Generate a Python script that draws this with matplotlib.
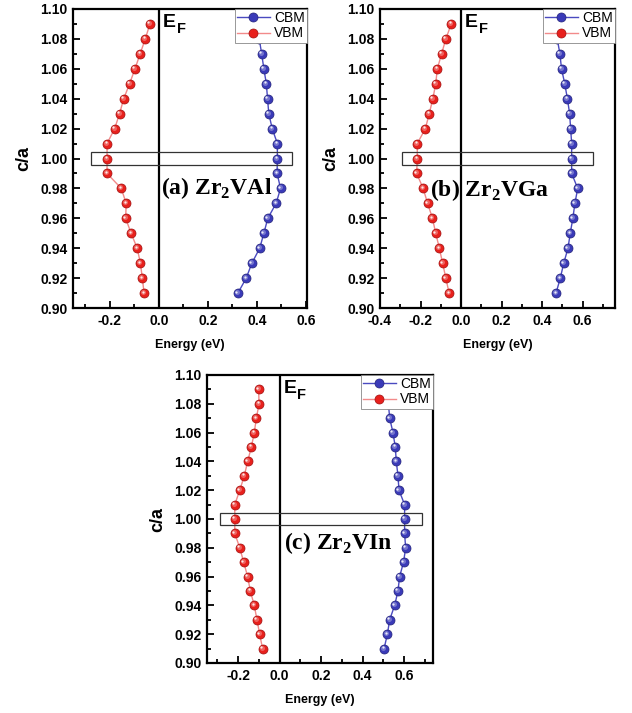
import numpy as np
import matplotlib
matplotlib.use("Agg")
import matplotlib.pyplot as plt
from matplotlib.ticker import MultipleLocator
from matplotlib import transforms
from matplotlib.patches import Rectangle

plt.rcParams['mathtext.fontset'] = 'custom'
plt.rcParams['mathtext.rm'] = 'Liberation Serif'
plt.rcParams['mathtext.bf'] = 'Liberation Serif:bold'

ca = [1.09, 1.08, 1.07, 1.06, 1.05, 1.04, 1.03, 1.02, 1.01, 1.00,
      0.99, 0.98, 0.97, 0.96, 0.95, 0.94, 0.93, 0.92, 0.91]

vbm_a = [-0.036, -0.055, -0.076, -0.097, -0.119, -0.143, -0.160, -0.180, -0.211, -0.211,
         -0.211, -0.153, -0.133, -0.135, -0.113, -0.088, -0.075, -0.067, -0.060]
cbm_a = [0.400, 0.410, 0.420, 0.429, 0.439, 0.444, 0.449, 0.463, 0.484, 0.484,
         0.483, 0.497, 0.479, 0.445, 0.429, 0.412, 0.380, 0.357, 0.323]

vbm_b = [-0.048, -0.075, -0.096, -0.117, -0.125, -0.139, -0.157, -0.176, -0.216, -0.216,
         -0.219, -0.187, -0.165, -0.141, -0.125, -0.107, -0.091, -0.075, -0.059]
cbm_b = [0.460, 0.475, 0.488, 0.496, 0.512, 0.525, 0.536, 0.541, 0.546, 0.546,
         0.546, 0.576, 0.562, 0.552, 0.539, 0.528, 0.507, 0.490, 0.469]

vbm_c = [-0.101, -0.099, -0.112, -0.122, -0.136, -0.154, -0.170, -0.192, -0.216, -0.216,
         -0.216, -0.192, -0.173, -0.154, -0.141, -0.122, -0.109, -0.096, -0.082]
cbm_c = [0.510, 0.525, 0.531, 0.547, 0.558, 0.563, 0.571, 0.576, 0.603, 0.603,
         0.603, 0.608, 0.598, 0.579, 0.571, 0.555, 0.531, 0.520, 0.504]

xticks_a = [-0.2, 0.0, 0.2, 0.4, 0.6]
xticks_b = [-0.4, -0.2, 0.0, 0.2, 0.4, 0.6]
xticks_c = [-0.2, 0.0, 0.2, 0.4, 0.6]
yticks = [0.90, 0.92, 0.94, 0.96, 0.98, 1.00, 1.02, 1.04, 1.06, 1.08, 1.10]

labels = [r"(a) Zr$_\mathbf{2}$VAl", r"(b) Zr$_\mathbf{2}$VGa", r"(c) Zr$_\mathbf{2}$VIn"]

fig = plt.figure(figsize=(6.32, 7.13), dpi=100)

W, H = 632, 713
def axes_px(l, r, t, b):
    return fig.add_axes([l / W, 1 - b / H, (r - l) / W, (b - t) / H])

ax_a = axes_px(73, 307, 9, 308)
ax_b = axes_px(380, 615, 9, 308)
ax_c = axes_px(207, 433, 375, 663)

SANS = "Liberation Sans"
SERIF = "Liberation Serif"
MS = 6.5

def sphere(ax, x, y, base, edge, line):
    ax.plot(x, y, '-', color=line, lw=1.0, zorder=3)
    ax.plot(x, y, 'o', ms=MS, mfc=base, mec=edge, mew=0.5, zorder=4)
    off = transforms.offset_copy(ax.transData, fig=fig, x=-0.7, y=0.7, units='points')
    ax.plot(x, y, 'o', ms=MS * 0.55, mfc='white', mec='none', alpha=0.3, transform=off, zorder=5)
    off2 = transforms.offset_copy(ax.transData, fig=fig, x=-1.1, y=1.1, units='points')
    ax.plot(x, y, 'o', ms=MS * 0.25, mfc='white', mec='none', alpha=0.85, transform=off2, zorder=6)

def panel(ax, vbm, cbm, xlim, xticks, label, label_xy, rect):
    ax.set_xlim(*xlim)
    ax.set_ylim(0.90, 1.10)
    ax.axvline(0.0, color='black', lw=1.6, zorder=2)
    h1 = ax.plot([], [], '-o', color='#4a4ac0', lw=1.0, ms=MS, mfc='#3a3ab8', mec='#23237a', mew=0.5)[0]
    h2 = ax.plot([], [], '-o', color='#f28a8a', lw=1.0, ms=MS, mfc='#e8201c', mec='#a01010', mew=0.5)[0]
    sphere(ax, cbm, ca, '#3a3ab8', '#23237a', '#4a4ac0')
    sphere(ax, vbm, ca, '#e8201c', '#a01010', '#f28a8a')
    ax.add_patch(Rectangle((rect[0], 0.9955), rect[1] - rect[0], 0.009,
                           fill=False, ec='#333333', lw=0.9, zorder=7))
    leg = ax.legend([h1, h2], ["CBM", "VBM"], loc='upper right', borderaxespad=0.0,
                    fancybox=False, framealpha=1.0, edgecolor='#888888',
                    prop={'family': SANS, 'size': 10}, handlelength=2.4,
                    handletextpad=0.3, borderpad=0.15, labelspacing=0.1)
    leg.get_frame().set_linewidth(0.6)
    leg.set_zorder(10)
    tE = ax.annotate("E", xy=(0.0, 1.0), xycoords=('data', 'axes fraction'),
                     xytext=(3, -3.5), textcoords='offset points', fontsize=14,
                     fontfamily=SANS, fontweight='bold', ha='left', va='top', zorder=8)
    ax.annotate("F", xy=(1.0, 0.0), xycoords=tE, xytext=(0.5, -4.0), textcoords='offset points',
                fontsize=10.5, fontfamily=SANS, fontweight='bold', ha='left', va='bottom', zorder=8)
    ax.text(label_xy[0], label_xy[1], label, fontsize=17, fontfamily=SERIF,
            fontweight='bold', ha='left', va='center', zorder=8)
    ax.set_xticks(xticks)
    ax.set_xticklabels([f"{v:.1f}" for v in xticks])
    ax.set_yticks(yticks)
    ax.set_yticklabels([f"{v:.2f}" for v in yticks])
    ax.xaxis.set_minor_locator(MultipleLocator(0.1))
    ax.yaxis.set_minor_locator(MultipleLocator(0.01))
    ax.tick_params(which='both', direction='in', top=False, right=False, width=1.3)
    ax.tick_params(which='major', length=5, labelsize=10, pad=4)
    ax.tick_params(which='minor', length=3)
    for lab in ax.get_xticklabels() + ax.get_yticklabels():
        lab.set_fontweight('bold')
        lab.set_fontfamily(SANS)
    for sp in ax.spines.values():
        sp.set_linewidth(1.6)
    ax.set_xlabel("Energy (eV)", fontsize=9, fontweight='bold', fontfamily=SANS, labelpad=8)
    ax.set_ylabel("c/a", fontsize=13, fontweight='bold', fontfamily=SANS, labelpad=6)

panel(ax_a, vbm_a, cbm_a, (-0.35, 0.605), xticks_a, labels[0], (0.01, 0.980), (-0.275, 0.545))
panel(ax_b, vbm_b, cbm_b, (-0.40, 0.76), xticks_b, labels[1], (-0.155, 0.979), (-0.29, 0.65))
panel(ax_c, vbm_c, cbm_c, (-0.35, 0.74), xticks_c, labels[2], (0.02, 0.983), (-0.285, 0.685))

fig.savefig("out.png", dpi=100)
